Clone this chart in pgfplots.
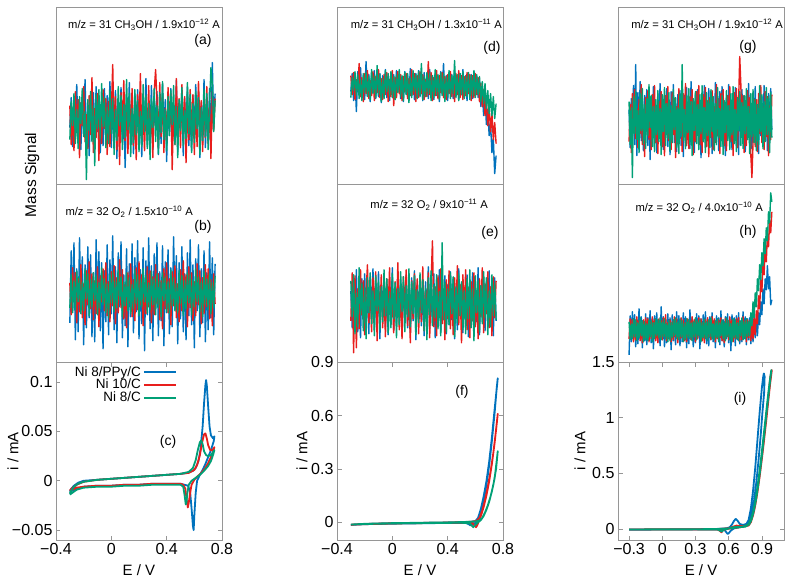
\documentclass[border=0pt]{standalone}
\usepackage{fontspec}
\setmainfont{Liberation Sans}
\usepackage{pgfplots}
\usepackage{pgfplotstable}
\pgfplotsset{compat=1.18}

\definecolor{cB}{RGB}{0,114,189}
\definecolor{cR}{RGB}{232,30,28}
\definecolor{cG}{RGB}{0,160,118}
\definecolor{frameg}{RGB}{150,150,150}

\pgfplotsset{
  base/.style={scale only axis, width=166pt, height=177.7pt, anchor=south west,
    axis line style={draw=frameg, line width=0.7pt},
    every tick/.style={frameg, line width=0.7pt},
    major tick length=4.5pt, tick align=inside,
    tick label style={font=\fontsize{16}{18}\selectfont, text=black}},
  noise/.style={base, ticks=none,
    every axis plot/.append style={line width=1.4pt, line join=round}},
  cv/.style={base,
    every axis plot/.append style={line width=1.8pt, line join=round},
    label style={font=\fontsize{15}{17}\selectfont},
    xlabel={E / V}, ylabel={i / mA},
    xlabel style={at={(axis description cs:0.5,-0.17)}, anchor=center},
    ylabel style={rotate=0, anchor=center}},
}

% mass signals, columns: potential, Ni 8/PPy/C, Ni 10/C, Ni 8/C
\pgfplotstableread{
x b r g
-0.30 -8 14 -20
-0.29 22 -25 18
-0.28 -27 9 -6
-0.27 15 -31 26
-0.26 -3 28 -24
-0.25 35 -12 10
-0.24 -19 20 -29
-0.23 6 -38 23
-0.22 -30 17 -4
-0.21 25 -6 31
-0.20 -14 33 -17
-0.19 40 -22 8
-0.18 -24 5 -60
-0.17 11 -29 20
-0.16 -36 24 -11
-0.15 19 -15 28
-0.14 -7 42 -22
-0.13 27 -33 14
-0.12 -21 11 -46
-0.11 33 -18 25
-0.10 -12 26 -9
-0.09 21 -41 30
-0.08 -33 13 -19
-0.07 9 -24 36
-0.06 -26 30 -7
-0.05 31 -9 22
-0.04 -17 21 -28
-0.03 24 -35 12
-0.02 -5 18 -24
-0.01 38 -27 29
0.00 -28 7 -14
0.01 14 55 21
0.02 -20 -16 -35
0.03 29 23 10
0.04 -39 -30 -21
0.05 17 12 33
0.06 -10 -45 -6
0.07 32 27 24
0.08 -23 -8 -30
0.09 7 39 15
0.10 -48 -21 -18
0.11 22 15 40
0.12 -15 -34 -10
0.13 37 20 26
0.14 -25 -13 -37
0.15 12 31 11
0.16 -34 -26 -23
0.17 26 10 30
0.18 -9 -40 -15
0.19 30 25 19
0.20 -22 -11 -32
0.21 16 46 8
0.22 -37 -19 -27
0.23 23 6 35
0.24 -13 -31 -12
0.25 41 22 24
0.26 -27 -15 -29
0.27 8 34 16
0.28 -18 -23 -40
0.29 34 13 21
0.30 -30 -38 -8
0.31 18 28 31
0.32 -6 50 -22
0.33 28 19 14
0.34 -35 -29 -34
0.35 13 37 27
0.36 -24 -17 -13
0.37 36 24 38
0.38 -11 -33 -20
0.39 20 11 10
0.40 -42 -22 -31
0.41 25 32 23
0.42 -16 -5 -16
0.43 31 26 29
0.44 -29 -50 -5
0.45 10 16 34
0.46 -21 -25 -25
0.47 39 41 13
0.48 -32 -14 -38
0.49 15 21 20
0.50 -8 -28 -11
0.51 27 35 32
0.52 -36 -12 -26
0.53 21 23 9
0.54 -14 -43 -19
0.55 33 10 37
0.56 -26 -20 -14
0.57 5 30 25
0.58 -31 -16 -33
0.59 24 25 16
0.60 -19 -35 -23
0.61 35 14 28
0.62 -10 -27 -9
0.63 29 38 22
0.64 -38 -7 -35
0.65 16 19 12
0.66 -23 -32 -21
0.67 40 24 30
0.68 -28 -18 -17
0.69 12 33 26
0.70 -17 -24 -30
0.71 31 15 14
0.72 -33 -39 52
0.73 57 28 35
0.74 -7 -11 -12
0.75 26 21 19
}\tabA

\pgfplotstableread{
x b r g
-0.30 -30 10 -15
-0.29 42 -22 18
-0.28 -18 25 -20
-0.27 50 -8 12
-0.26 -47 20 -17
-0.25 24 -30 22
-0.24 -39 14 -9
-0.23 55 -19 16
-0.22 -12 28 -21
-0.21 36 -25 11
-0.20 -52 9 -18
-0.19 28 -32 24
-0.18 -35 22 -6
-0.17 46 -12 19
-0.16 -25 31 -23
-0.15 38 -16 13
-0.14 -44 19 -14
-0.13 20 -27 20
-0.12 -49 12 -8
-0.11 53 -21 17
-0.10 -16 26 -22
-0.09 41 -34 10
-0.08 -38 17 -16
-0.07 30 -9 25
-0.06 -56 24 -12
-0.05 22 -18 14
-0.04 -29 30 -20
-0.03 48 -23 9
-0.02 -42 11 -25
-0.01 33 -29 18
0.00 -21 21 -10
0.01 57 -13 21
0.02 -37 27 -19
0.03 26 -31 12
0.04 -50 15 -15
0.05 40 -20 23
0.06 -14 33 -7
0.07 51 -15 16
0.08 -45 23 -24
0.09 18 -26 11
0.10 -33 8 -13
0.11 44 -35 20
0.12 -54 20 -18
0.13 29 -10 15
0.14 -24 29 -21
0.15 49 -24 8
0.16 -40 13 -16
0.17 35 -28 22
0.18 -19 25 -11
0.19 52 -17 18
0.20 -46 31 -23
0.21 23 -12 13
0.22 -31 18 -14
0.23 45 -33 24
0.24 -58 10 -9
0.25 32 -21 17
0.26 -22 26 -20
0.27 55 -14 10
0.28 -36 22 -17
0.29 27 -30 21
0.30 -48 16 -12
0.31 39 -22 14
0.32 -15 28 -22
0.33 50 -11 19
0.34 -43 19 -15
0.35 21 -27 12
0.36 -28 12 -24
0.37 47 -36 20
0.38 -53 24 -8
0.39 31 -16 16
0.40 -20 30 -19
0.41 43 -20 11
0.42 -41 14 -21
0.43 25 -32 23
0.44 -34 21 -13
0.45 56 -13 15
0.46 -17 27 -18
0.47 37 -25 9
0.48 -51 9 -20
0.49 30 -29 22
0.50 -26 23 -11
0.51 46 -18 17
0.52 -39 32 -23
0.53 19 -10 12
0.54 -47 18 -16
0.55 40 -34 20
0.56 -23 26 -10
0.57 53 -15 18
0.58 -32 20 -22
0.59 28 -28 13
0.60 -55 11 -14
0.61 34 -23 24
0.62 -18 29 -9
0.63 48 -12 16
0.64 -44 22 -19
0.65 24 -31 11
0.66 -30 15 -24
0.67 42 -21 21
0.68 -49 28 -12
0.69 20 -14 14
0.70 -37 24 -17
0.71 51 -26 19
0.72 -25 13 -21
0.73 35 -33 10
0.74 -42 19 -15
0.75 29 -11 17
}\tabB

\pgfplotstableread{
x b r g
-0.30 -6 10 -12
-0.29 12 -9 8
-0.28 -15 13 -5
-0.27 9 -14 14
-0.26 -26 6 -10
-0.25 14 -4 11
-0.24 -8 22 -13
-0.23 18 -11 6
-0.22 -12 8 -15
-0.21 7 -16 12
-0.20 -14 12 -7
-0.19 24 -8 13
-0.18 -10 15 -11
-0.17 11 -13 9
-0.16 -16 5 -14
-0.15 13 -10 16
-0.14 -5 14 -8
-0.13 15 -15 10
-0.12 -13 9 -12
-0.11 8 -7 20
-0.10 -11 16 -9
-0.09 12 -12 11
-0.08 -17 7 -16
-0.07 10 -14 7
-0.06 -7 11 -13
-0.05 16 -9 15
-0.04 -12 13 -6
-0.03 9 -16 12
-0.02 -15 6 -10
-0.01 13 -11 14
0.00 -9 15 -12
0.01 11 -20 9
0.02 -14 8 -14
0.03 15 -12 11
0.04 -6 14 -7
0.05 12 -8 16
0.06 -13 11 -11
0.07 8 -15 10
0.08 -16 9 -15
0.09 14 -6 13
0.10 -8 12 -9
0.11 10 -13 12
0.12 -12 7 -17
0.13 17 -10 8
0.14 -10 16 -12
0.15 9 -9 15
0.16 -14 12 -6
0.17 12 -16 11
0.18 -7 10 -13
0.19 15 -12 14
0.20 -11 14 -10
0.21 8 -8 22
0.22 -15 11 -14
0.23 13 -14 9
0.24 -9 6 -11
0.25 11 -11 13
0.26 -13 24 -8
0.27 16 -9 12
0.28 -6 13 -15
0.29 10 -15 10
0.30 -14 8 -12
0.31 12 -10 16
0.32 -10 15 -9
0.33 9 -13 11
0.34 -16 10 -14
0.35 14 -7 13
0.36 -8 13 -10
0.37 22 -12 12
0.38 -12 9 -16
0.39 10 -14 9
0.40 -15 11 -11
0.41 13 -8 15
0.42 -7 14 -13
0.43 11 -11 10
0.44 -13 8 -8
0.45 15 -16 25
0.46 -10 12 -12
0.47 9 -9 11
0.48 -14 15 -15
0.49 12 -12 12
0.50 -9 10 -9
0.51 16 -14 14
0.52 -12 9 -13
0.53 10 -10 9
0.54 -15 13 -11
0.55 13 -8 13
0.56 -8 11 -14
0.57 11 -15 10
0.58 -13 10 -10
0.59 14 -12 15
0.60 -10 12 -12
0.61 9 -9 11
0.62 -12 8 -9
0.63 5 -16 9
0.64 -21 2 -16
0.65 -5 -21 4
0.66 -30 -4 -18
0.67 -12 -30 2
0.68 -39 -15 -23
0.69 -24 -40 -5
0.70 -50 -21 -28
0.71 -38 -46 -8
0.72 -67 -28 -30
0.73 -53 -54 -11
0.74 -88 -37 -33
0.75 -70 -58 -18
}\tabD

\pgfplotstableread{
x b r g
-0.30 12 -18 22
-0.29 -25 30 -14
-0.28 20 -50 28
-0.27 -16 27 -31
-0.26 33 -45 10
-0.25 -29 14 -24
-0.24 8 -26 35
-0.23 -35 33 -12
-0.22 24 -12 19
-0.21 -11 22 -28
-0.20 29 -32 15
-0.19 -22 9 -36
-0.18 15 38 25
-0.17 -31 -20 -10
-0.16 26 16 30
-0.15 -14 -29 -21
-0.14 34 25 12
-0.13 -27 -11 -33
-0.12 10 31 27
-0.11 -20 -38 -8
-0.10 31 18 22
-0.09 -36 -15 -27
-0.08 18 28 16
-0.07 -9 -25 -19
-0.06 27 12 33
-0.05 -24 -34 -13
-0.04 14 24 24
-0.03 -32 -7 -30
-0.02 22 35 11
-0.01 -13 -22 -25
0.00 35 10 29
0.01 -28 -30 -16
0.02 11 21 20
0.03 -21 -13 -35
0.04 30 40 14
0.05 -15 -27 -22
0.06 23 15 31
0.07 -34 -36 -9
0.08 17 26 26
0.09 -10 -10 -29
0.10 28 33 17
0.11 -25 -23 -14
0.12 13 11 34
0.13 -30 -40 -24
0.14 25 22 21
0.15 -18 -16 -11
0.16 32 29 27
0.17 -37 -8 -32
0.18 19 24 13
0.19 -12 -31 -20
0.20 26 17 30
0.21 -23 -19 -10
0.22 14 36 23
0.23 -33 -28 -28
0.24 21 13 15
0.25 -16 -12 -37
0.26 36 30 25
0.27 -26 -35 -12
0.28 12 20 32
0.29 -20 62 -23
0.30 29 -24 18
0.31 -35 16 -15
0.32 16 -33 28
0.33 -11 27 -26
0.34 33 -14 11
0.35 -29 34 -33
0.36 22 -21 60
0.37 -14 11 -17
0.38 27 -37 20
0.39 -31 23 -29
0.40 18 -16 14
0.41 -22 32 -22
0.42 31 -26 30
0.43 -17 14 -11
0.44 24 -32 26
0.45 -36 25 -34
0.46 10 -10 16
0.47 -27 37 -20
0.48 34 -22 29
0.49 -13 18 -13
0.50 20 -40 21
0.51 -30 28 -27
0.52 15 -13 12
0.53 -21 33 -31
0.54 28 -27 24
0.55 -34 15 -16
0.56 23 -35 33
0.57 -10 21 -25
0.58 30 -18 14
0.59 -25 30 -38
0.60 13 -24 27
0.61 -19 12 -10
0.62 35 -36 22
0.63 -32 24 -29
0.64 17 -14 17
0.65 -15 35 -21
0.66 26 -30 31
0.67 -28 19 -15
0.68 21 -11 25
0.69 -12 31 -32
0.70 32 -25 12
0.71 -24 16 -24
0.72 16 -33 28
0.73 -33 26 -13
0.74 25 -15 20
0.75 -18 22 -17
}\tabE

\pgfplotstableread{
x b r g
-0.30 10 -22 18
-0.29 -28 15 -25
-0.28 21 -33 12
-0.27 -12 26 -58
-0.26 34 -8 23
-0.25 -25 30 -14
-0.24 55 -19 28
-0.23 -36 11 -20
-0.22 27 -28 9
-0.21 -9 20 -33
-0.20 38 -14 26
-0.19 -21 35 -11
-0.18 12 -25 31
-0.17 -31 9 -24
-0.16 24 -37 15
-0.15 -15 22 -29
-0.14 30 -11 21
-0.13 -26 29 -16
-0.12 18 -20 35
-0.11 -40 14 -8
-0.10 22 -30 24
-0.09 -11 25 -27
-0.08 33 -16 13
-0.07 -24 34 -32
-0.06 9 -23 20
-0.05 -33 12 -15
-0.04 26 -34 29
-0.03 -17 18 -22
-0.02 36 -10 11
-0.01 -22 28 -35
0.00 14 -27 25
0.01 -30 16 -12
0.02 23 -36 32
0.03 -13 24 -26
0.04 31 -12 16
0.05 -27 33 -19
0.06 11 -21 27
0.07 -35 10 -31
0.08 28 -30 14
0.09 -16 27 -23
0.10 35 -15 30
0.11 -23 21 -10
0.12 16 -38 22
0.13 -32 13 -28
0.14 25 -24 12
0.15 -10 31 -34
0.16 29 -13 26
0.17 -26 19 -17
0.18 13 -32 55
0.19 -37 26 -21
0.20 24 -17 10
0.21 -14 36 -29
0.22 32 -26 24
0.23 -20 11 -13
0.24 17 -29 31
0.25 -29 23 -25
0.26 38 -11 18
0.27 -18 30 -36
0.28 10 -35 21
0.29 -33 17 -11
0.30 26 -22 28
0.31 -12 28 -24
0.32 30 -14 15
0.33 -25 34 -30
0.34 19 -25 25
0.35 -38 14 -14
0.36 23 -33 34
0.37 -15 25 -22
0.38 34 -12 12
0.39 -28 32 -33
0.40 12 -27 27
0.41 -21 19 -16
0.42 31 -37 20
0.43 -11 22 -28
0.44 27 -18 30
0.45 -34 29 -12
0.46 15 -30 23
0.47 -24 13 -31
0.48 37 -23 16
0.49 -16 35 -25
0.50 20 -16 32
0.51 -31 21 -18
0.52 28 -34 11
0.53 -13 26 -27
0.54 33 -12 24
0.55 -27 30 -35
0.56 14 -26 19
0.57 -36 16 -13
0.58 22 -31 29
0.59 -19 24 -21
0.60 35 -15 14
0.61 -23 33 -30
0.62 16 -22 26
0.63 -30 12 -15
0.64 25 -36 33
0.65 -12 27 -24
0.66 32 -13 10
0.67 -26 31 -32
0.68 18 -28 22
0.69 -35 18 -11
0.70 27 63 28
0.71 -14 35 -26
0.72 30 -17 17
0.73 -22 24 -29
0.74 11 -33 24
0.75 -32 15 -14
0.76 24 -26 31
0.77 -17 29 -20
0.78 36 -11 13
0.79 -25 22 -34
0.80 13 -35 26
0.81 -29 -58 -17
0.82 21 -24 30
0.83 -11 20 -23
0.84 33 -27 20
0.85 -20 20 -31
0.86 15 -32 15
0.87 -34 26 -25
0.88 28 -14 34
0.89 -16 34 -12
0.90 23 -23 25
0.91 -27 13 -29
0.92 34 -30 18
0.93 -13 28 -22
0.94 19 -17 32
0.95 -31 23 -15
0.96 26 -36 23
0.97 -21 14 -33
0.98 31 -20 27
0.99 -10 25 -18
}\tabG

\pgfplotstableread{
x b r g
-0.30 -25 -9 8
-0.29 14 11 -10
-0.28 -12 -7 6
-0.27 18 10 -9
-0.26 -8 -12 11
-0.25 15 6 -7
-0.24 -17 -10 10
-0.23 10 13 -11
-0.22 -14 -6 7
-0.21 21 9 -8
-0.20 -9 -11 12
-0.19 13 7 -6
-0.18 -18 -13 9
-0.17 9 10 -12
-0.16 -11 -8 8
-0.15 16 12 -10
-0.14 -15 -5 6
-0.13 12 11 -11
-0.12 -7 -12 10
-0.11 19 8 -7
-0.10 -13 -9 9
-0.09 11 13 -12
-0.08 -19 -7 7
-0.07 14 10 -9
-0.06 -6 -11 11
-0.05 17 6 -6
-0.04 -12 -13 10
-0.03 8 11 -8
-0.02 -16 -8 12
-0.01 23 9 -10
0.00 -10 -10 8
0.01 13 12 -7
0.02 -17 -6 11
0.03 10 15 -9
0.04 -13 -11 6
0.05 16 7 -12
0.06 -8 -9 9
0.07 12 10 -11
0.08 -20 -12 7
0.09 15 8 -8
0.10 -11 -10 10
0.11 9 13 -6
0.12 -15 -7 12
0.13 18 11 -9
0.14 -9 -13 8
0.15 14 6 -10
0.16 -16 -9 11
0.17 11 12 -7
0.18 -12 -8 9
0.19 17 10 -12
0.20 -7 -11 6
0.21 13 7 -10
0.22 -18 -12 11
0.23 10 11 -8
0.24 -14 -6 10
0.25 20 9 -9
0.26 -10 -10 7
0.27 12 13 -11
0.28 -17 -7 8
0.29 9 10 -7
0.30 -13 -12 12
0.31 16 8 -10
0.32 -8 -9 9
0.33 14 12 -6
0.34 -19 -6 10
0.35 11 11 -12
0.36 -11 -11 7
0.37 15 7 -8
0.38 -9 -13 11
0.39 18 10 -9
0.40 -14 -8 8
0.41 10 12 -11
0.42 -16 -7 10
0.43 13 9 -7
0.44 -10 -10 12
0.45 17 13 -9
0.46 -12 -6 6
0.47 9 11 -10
0.48 -18 -12 9
0.49 14 8 -8
0.50 -7 -9 11
0.51 12 10 -12
0.52 -15 -8 7
0.53 19 12 -6
0.54 -11 -11 10
0.55 10 6 -9
0.56 -17 -13 8
0.57 13 11 -11
0.58 -9 -7 12
0.59 16 9 -7
0.60 -13 -10 9
0.61 11 13 -10
0.62 -21 -6 6
0.63 15 10 -12
0.64 -8 -12 11
0.65 12 7 -8
0.66 -16 -9 10
0.67 14 11 -9
0.68 -10 -8 7
0.69 17 12 -11
0.70 -14 -11 9
0.71 9 8 -6
0.72 -12 -10 12
0.73 18 13 -10
0.74 -9 -7 8
0.75 13 9 -9
0.76 -15 -12 11
0.77 11 10 -7
0.78 -10 -8 8
0.79 12 9 -6
0.80 -14 -11 17
0.81 9 7 4
0.82 -12 -9 28
0.83 15 13 12
0.84 -8 -5 37
0.85 11 19 23
0.86 -6 6 51
0.87 17 34 39
0.88 5 21 65
0.89 28 50 50
0.90 15 38 77
0.91 41 67 64
0.92 26 55 91
0.93 51 83 76
0.94 40 68 102
0.95 64 96 89
0.96 41 83 118
0.97 53 109 107
0.98 25 97 137
0.99 30 118 128
}\tabH

\begin{document}
\begin{tikzpicture}
\useasboundingbox (0,0) rectangle (792pt,584pt);

% ---------------- column 1 ----------------
\begin{axis}[noise, at={(56pt,399.4pt)}, xmin=-0.4, xmax=0.8, ymin=-65, ymax=112.7]
  \addplot[cB] table[x=x, y=b] {\tabA};
  \addplot[cR] table[x=x, y=r] {\tabA};
  \addplot[cG] table[x=x, y=g] {\tabA};
\end{axis}
\begin{axis}[noise, at={(56pt,221.7pt)}, xmin=-0.4, xmax=0.8, ymin=-69.5, ymax=108.2]
  \addplot[cB] table[x=x, y=b] {\tabB};
  \addplot[cR] table[x=x, y=r] {\tabB};
  \addplot[cG] table[x=x, y=g] {\tabB};
\end{axis}
\begin{axis}[cv, at={(56pt,44pt)}, xmin=-0.4, xmax=0.8, ymin=-0.06, ymax=0.12,
    xtick={-0.4,0,0.4,0.8}, xticklabels={−0.4,0,0.4,0.8},
    ytick={-0.05,0,0.05,0.1}, yticklabels={−0.05,0,0.05,0.1},
    ylabel style={at={(axis description cs:-0.259,0.5)}},
    legend style={draw=none, fill=none, font=\fontsize{13.5}{14}\selectfont,
      at={(axis description cs:0.735,0.995)}, anchor=north east,
      row sep=-2.5pt, inner sep=1pt, legend cell align=right},
    legend plot pos=right,
    legend image code/.code={\draw[#1, line width=2pt] (0pt,0pt) -- (32pt,0pt);}]
  \addplot[cB] coordinates {(-0.30,-0.011) (-0.29,-0.008) (-0.27,-0.005) (-0.24,-0.002) (-0.2,0.000) (-0.1,0.001) (0,0.002) (0.1,0.003) (0.2,0.004) (0.3,0.005) (0.4,0.006) (0.5,0.007) (0.55,0.008) (0.59,0.010) (0.61,0.013) (0.63,0.020) (0.645,0.032) (0.66,0.055) (0.67,0.078) (0.68,0.097) (0.685,0.102) (0.69,0.097) (0.70,0.075) (0.71,0.055) (0.72,0.046) (0.735,0.043) (0.745,0.045) (0.74,0.040) (0.72,0.031) (0.70,0.024) (0.68,0.017) (0.66,0.011) (0.64,0.006) (0.62,0.000) (0.61,-0.012) (0.60,-0.035) (0.595,-0.050) (0.59,-0.046) (0.58,-0.028) (0.57,-0.012) (0.555,-0.005) (0.5,-0.003) (0.4,-0.003) (0.3,-0.003) (0.2,-0.004) (0.1,-0.004) (0,-0.005) (-0.1,-0.005) (-0.2,-0.006) (-0.25,-0.008) (-0.28,-0.010) (-0.30,-0.011)};
  \addplot[cR] coordinates {(-0.30,-0.010) (-0.28,-0.007) (-0.25,-0.004) (-0.2,-0.001) (-0.1,0.001) (0,0.002) (0.1,0.003) (0.2,0.004) (0.3,0.005) (0.4,0.006) (0.5,0.007) (0.56,0.008) (0.60,0.011) (0.62,0.016) (0.64,0.026) (0.655,0.038) (0.67,0.047) (0.68,0.048) (0.69,0.043) (0.70,0.036) (0.715,0.031) (0.73,0.031) (0.745,0.034) (0.735,0.029) (0.72,0.024) (0.70,0.018) (0.68,0.013) (0.65,0.008) (0.62,0.004) (0.60,0.001) (0.58,-0.004) (0.57,-0.012) (0.56,-0.022) (0.553,-0.027) (0.545,-0.020) (0.535,-0.008) (0.52,-0.004) (0.5,-0.003) (0.4,-0.003) (0.3,-0.003) (0.2,-0.004) (0.1,-0.004) (0,-0.005) (-0.1,-0.005) (-0.2,-0.006) (-0.25,-0.007) (-0.30,-0.010)};
  \addplot[cG] coordinates {(-0.30,-0.013) (-0.29,-0.010) (-0.27,-0.006) (-0.24,-0.003) (-0.2,-0.001) (-0.1,0.001) (0,0.002) (0.1,0.003) (0.2,0.004) (0.3,0.005) (0.4,0.006) (0.5,0.007) (0.56,0.009) (0.59,0.013) (0.61,0.021) (0.625,0.031) (0.64,0.039) (0.65,0.041) (0.66,0.037) (0.67,0.030) (0.685,0.026) (0.70,0.025) (0.72,0.026) (0.745,0.031) (0.735,0.026) (0.72,0.020) (0.70,0.015) (0.67,0.010) (0.64,0.006) (0.61,0.003) (0.58,0.000) (0.56,-0.004) (0.55,-0.012) (0.543,-0.022) (0.538,-0.024) (0.53,-0.015) (0.52,-0.006) (0.5,-0.004) (0.4,-0.004) (0.3,-0.004) (0.2,-0.005) (0.1,-0.005) (0,-0.006) (-0.1,-0.006) (-0.2,-0.007) (-0.25,-0.009) (-0.28,-0.012) (-0.30,-0.014)};
  \legend{Ni 8/PPy/C, Ni 10/C, Ni 8/C}
\end{axis}

% ---------------- column 2 ----------------
\begin{axis}[noise, at={(337pt,399.4pt)}, xmin=-0.4, xmax=0.8, ymin=-99, ymax=78.7]
  \addplot[cB] table[x=x, y=b] {\tabD};
  \addplot[cR] table[x=x, y=r] {\tabD};
  \addplot[cG] table[x=x, y=g] {\tabD};
\end{axis}
\begin{axis}[noise, at={(337pt,221.7pt)}, xmin=-0.4, xmax=0.8, ymin=-59.5, ymax=118.2]
  \addplot[cB] table[x=x, y=b] {\tabE};
  \addplot[cR] table[x=x, y=r] {\tabE};
  \addplot[cG] table[x=x, y=g] {\tabE};
\end{axis}
\begin{axis}[cv, at={(337pt,44pt)}, xmin=-0.4, xmax=0.8, ymin=-0.1, ymax=0.9,
    xtick={-0.4,0,0.4,0.8}, xticklabels={−0.4,0,0.4,0.8},
    ytick={0,0.3,0.6,0.9}, yticklabels={0,0.3,0.6,0.9},
    ylabel style={at={(axis description cs:-0.211,0.5)}}]
  \addplot[cB] coordinates {(-0.30,-0.015) (-0.2,-0.010) (0,-0.006) (0.2,-0.004) (0.4,-0.002) (0.5,0.000) (0.56,0.002) (0.60,0.006) (0.62,0.025) (0.64,0.075) (0.66,0.145) (0.68,0.23) (0.70,0.34) (0.72,0.48) (0.74,0.64) (0.762,0.81) (0.755,0.76) (0.74,0.62) (0.72,0.46) (0.70,0.32) (0.68,0.21) (0.66,0.12) (0.64,0.055) (0.62,0.015) (0.60,-0.005) (0.58,-0.012) (0.565,-0.018) (0.55,-0.010) (0.53,-0.004) (0.4,-0.004) (0.2,-0.006) (0,-0.008) (-0.2,-0.011) (-0.30,-0.015)};
  \addplot[cR] coordinates {(-0.30,-0.014) (-0.2,-0.010) (0,-0.006) (0.2,-0.004) (0.4,-0.002) (0.5,0.000) (0.58,0.003) (0.61,0.008) (0.63,0.025) (0.65,0.065) (0.67,0.125) (0.69,0.20) (0.71,0.285) (0.73,0.39) (0.75,0.52) (0.762,0.61) (0.755,0.56) (0.74,0.45) (0.72,0.33) (0.70,0.23) (0.68,0.15) (0.66,0.085) (0.64,0.035) (0.625,0.008) (0.615,-0.015) (0.605,-0.028) (0.595,-0.02) (0.58,-0.006) (0.5,-0.003) (0.2,-0.005) (0,-0.007) (-0.2,-0.011) (-0.30,-0.014)};
  \addplot[cG] coordinates {(-0.30,-0.013) (-0.2,-0.009) (0,-0.005) (0.2,-0.003) (0.4,-0.001) (0.5,0.001) (0.6,0.004) (0.63,0.010) (0.65,0.025) (0.67,0.055) (0.69,0.095) (0.71,0.145) (0.73,0.21) (0.75,0.30) (0.762,0.40) (0.755,0.35) (0.74,0.25) (0.72,0.175) (0.70,0.115) (0.68,0.07) (0.66,0.035) (0.64,0.012) (0.62,0.0) (0.60,-0.015) (0.585,-0.028) (0.575,-0.02) (0.56,-0.006) (0.5,-0.003) (0.2,-0.005) (0,-0.007) (-0.2,-0.010) (-0.30,-0.013)};
\end{axis}

% ---------------- column 3 ----------------
\begin{axis}[noise, at={(618pt,399.4pt)}, xmin=-0.4, xmax=1.1, ymin=-65, ymax=112.7]
  \addplot[cB] table[x=x, y=b] {\tabG};
  \addplot[cR] table[x=x, y=r] {\tabG};
  \addplot[cG] table[x=x, y=g] {\tabG};
\end{axis}
\begin{axis}[noise, at={(618pt,221.7pt)}, xmin=-0.4, xmax=1.1, ymin=-32.5, ymax=145.2]
  \addplot[cB] table[x=x, y=b] {\tabH};
  \addplot[cR] table[x=x, y=r] {\tabH};
  \addplot[cG] table[x=x, y=g] {\tabH};
\end{axis}
\begin{axis}[cv, at={(618pt,44pt)}, xmin=-0.4, xmax=1.1, ymin=-0.1, ymax=1.5,
    xtick={-0.3,0,0.3,0.6,0.9}, xticklabels={−0.3,0,0.3,0.6,0.9},
    ytick={0,0.5,1,1.5}, yticklabels={0,0.5,1,1.5},
    ylabel style={at={(axis description cs:-0.229,0.5)}}]
  \addplot[cB] coordinates {(-0.30,-0.006) (0,-0.005) (0.3,-0.003) (0.5,0.000) (0.58,0.005) (0.61,0.015) (0.63,0.04) (0.65,0.075) (0.665,0.090) (0.68,0.075) (0.70,0.045) (0.73,0.035) (0.76,0.045) (0.78,0.08) (0.80,0.18) (0.82,0.34) (0.84,0.55) (0.86,0.80) (0.88,1.05) (0.90,1.27) (0.912,1.37) (0.918,1.40) (0.925,1.37) (0.92,1.22) (0.905,1.05) (0.89,0.85) (0.87,0.62) (0.85,0.42) (0.83,0.26) (0.81,0.14) (0.79,0.07) (0.76,0.03) (0.70,0.015) (0.65,0.005) (0.62,-0.015) (0.60,-0.04) (0.59,-0.045) (0.575,-0.025) (0.56,-0.008) (0.5,-0.005) (0.3,-0.005) (0,-0.006) (-0.30,-0.007)};
  \addplot[cR] coordinates {(-0.30,-0.005) (0,-0.004) (0.3,-0.003) (0.5,-0.001) (0.6,0.005) (0.64,0.02) (0.67,0.03) (0.70,0.025) (0.74,0.025) (0.78,0.035) (0.80,0.07) (0.82,0.13) (0.84,0.22) (0.86,0.33) (0.88,0.47) (0.90,0.63) (0.92,0.80) (0.94,0.98) (0.96,1.17) (0.975,1.31) (0.99,1.43) (0.975,1.36) (0.96,1.20) (0.94,1.00) (0.92,0.81) (0.90,0.63) (0.88,0.47) (0.86,0.33) (0.84,0.21) (0.82,0.12) (0.80,0.06) (0.78,0.03) (0.7,0.015) (0.6,0.002) (0.55,-0.01) (0.535,-0.03) (0.525,-0.02) (0.5,-0.006) (0.3,-0.005) (0,-0.005) (-0.30,-0.006)};
  \addplot[cG] coordinates {(-0.30,-0.005) (0,-0.004) (0.3,-0.003) (0.5,-0.001) (0.6,0.004) (0.64,0.015) (0.68,0.02) (0.72,0.02) (0.76,0.03) (0.78,0.045) (0.80,0.085) (0.82,0.15) (0.84,0.25) (0.86,0.38) (0.88,0.53) (0.90,0.70) (0.92,0.88) (0.94,1.06) (0.96,1.24) (0.975,1.36) (0.985,1.43) (0.98,1.38) (0.965,1.25) (0.945,1.07) (0.925,0.88) (0.905,0.70) (0.885,0.53) (0.865,0.38) (0.845,0.25) (0.825,0.15) (0.805,0.08) (0.785,0.04) (0.75,0.02) (0.7,0.015) (0.6,0.003) (0.55,-0.01) (0.54,-0.025) (0.53,-0.02) (0.5,-0.005) (0.3,-0.004) (0,-0.005) (-0.30,-0.006)};
\end{axis}

% ---------------- annotations ----------------
\begin{scope}[every node/.style={font=\fontsize{11.2}{12}\selectfont, inner sep=0pt}]
  \node[anchor=east] at (220pt,559pt) {m/z = 31 CH\textsubscript{3}OH / 1.9x10\textsuperscript{−12} A};
  \node[anchor=east] at (193pt,372pt) {m/z = 32 O\textsubscript{2} / 1.5x10\textsuperscript{−10} A};
  \node[anchor=east] at (502pt,559pt) {m/z = 31 CH\textsubscript{3}OH / 1.3x10\textsuperscript{−11} A};
  \node[anchor=east] at (488pt,379pt) {m/z = 32 O\textsubscript{2} / 9x10\textsuperscript{−11} A};
  \node[anchor=east] at (783pt,559pt) {m/z = 31 CH\textsubscript{3}OH / 1.9x10\textsuperscript{−12} A};
  \node[anchor=east] at (763pt,376pt) {m/z = 32 O\textsubscript{2} / 4.0x10\textsuperscript{−10} A};
\end{scope}
\begin{scope}[every node/.style={font=\fontsize{14}{16}\selectfont, inner sep=0pt}]
  \node at (203pt,543pt) {(a)};
  \node at (203pt,357pt) {(b)};
  \node at (168pt,142pt) {(c)};
  \node at (492pt,536pt) {(d)};
  \node at (490pt,351pt) {(e)};
  \node at (462pt,192pt) {(f)};
  \node at (748pt,537pt) {(g)};
  \node at (748pt,352pt) {(h)};
  \node at (740pt,185pt) {(i)};
\end{scope}
\node[rotate=90, font=\fontsize{15.5}{17}\selectfont] at (32pt,409pt) {Mass Signal};
\end{tikzpicture}
\end{document}
